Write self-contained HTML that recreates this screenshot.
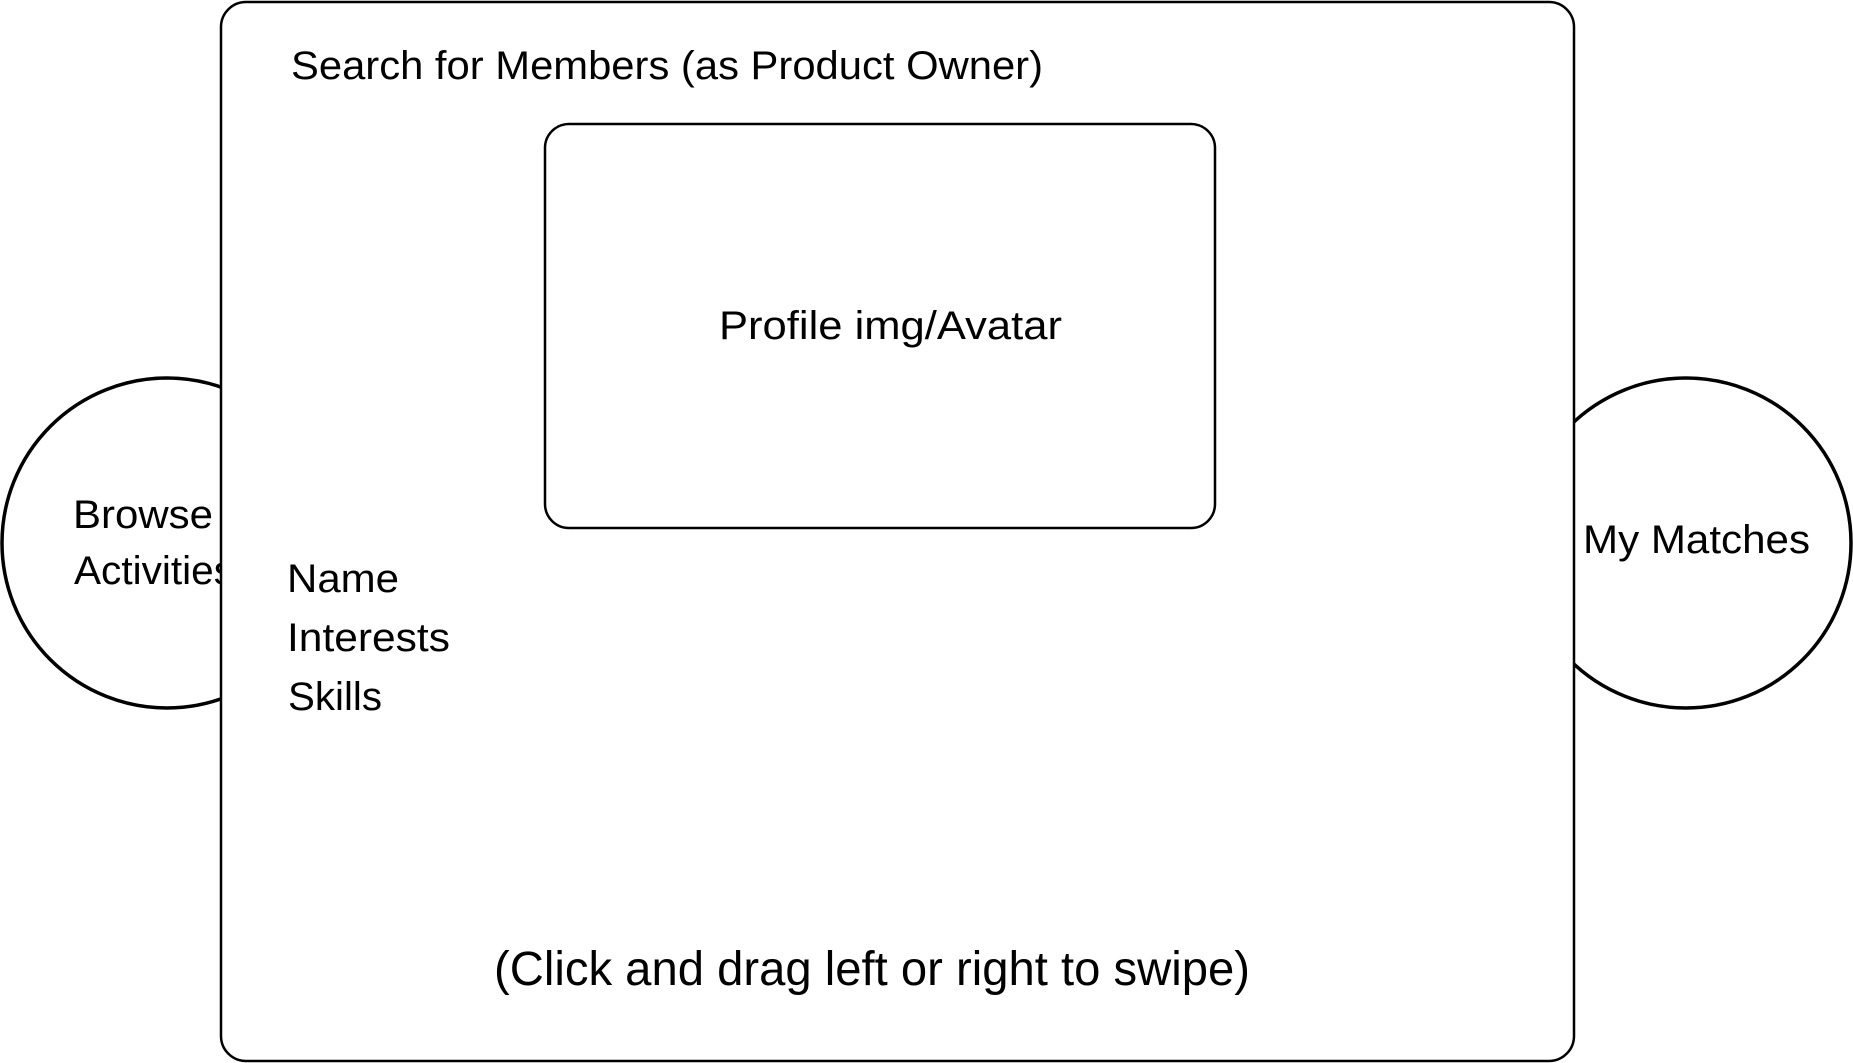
<!DOCTYPE html>
<html><head><style>html,body{margin:0;padding:0;background:#fff}svg{display:block}</style></head>
<body>
<svg width="1853" height="1063" viewBox="0 0 1853 1063" xmlns="http://www.w3.org/2000/svg" font-family="Liberation Sans, sans-serif" fill="#000">
<circle cx="167" cy="543" r="165" fill="#fff" stroke="#000" stroke-width="3.5"/>
<circle cx="1686" cy="543" r="165" fill="#fff" stroke="#000" stroke-width="3.5"/>
<text x="73" y="528" font-size="40" textLength="140" lengthAdjust="spacingAndGlyphs">Browse</text>
<text x="74" y="584" font-size="40" textLength="160" lengthAdjust="spacingAndGlyphs">Activities</text>
<rect x="221" y="2" width="1353" height="1059" rx="25" fill="#fff" stroke="#000" stroke-width="2.5"/>
<rect x="1574" y="380" width="3" height="0" fill="none"/>
<text x="1583" y="553" font-size="40" textLength="227" lengthAdjust="spacingAndGlyphs">My Matches</text>
<text x="291" y="79" font-size="40" textLength="752" lengthAdjust="spacingAndGlyphs">Search for Members (as Product Owner)</text>
<rect x="545" y="124" width="670" height="404" rx="24" fill="#fff" stroke="#000" stroke-width="2.5"/>
<text x="719" y="339" font-size="40" textLength="343" lengthAdjust="spacingAndGlyphs">Profile img/Avatar</text>
<text x="287" y="592" font-size="40" textLength="112" lengthAdjust="spacingAndGlyphs">Name</text>
<text x="287" y="651" font-size="40" textLength="163" lengthAdjust="spacingAndGlyphs">Interests</text>
<text x="288" y="710" font-size="40" textLength="94" lengthAdjust="spacingAndGlyphs">Skills</text>
<text x="494" y="985" font-size="48" textLength="756" lengthAdjust="spacingAndGlyphs">(Click and drag left or right to swipe)</text>
</svg>
</body></html>
